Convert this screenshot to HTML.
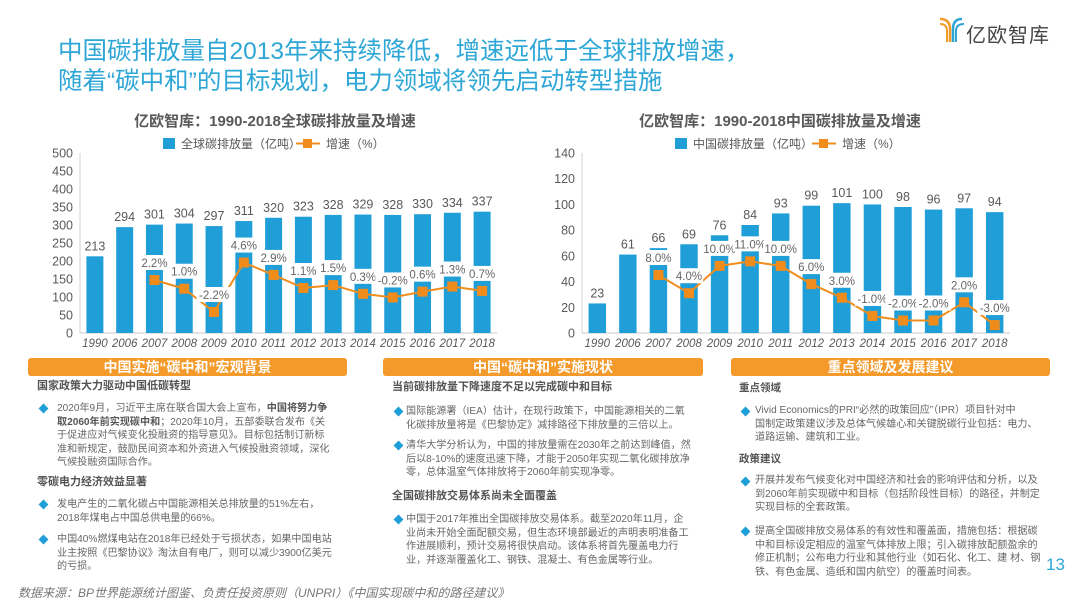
<!DOCTYPE html>
<html><head><meta charset="utf-8">
<style>
*{margin:0;padding:0;box-sizing:border-box}
body{width:1080px;height:608px;background:#fff;position:relative;overflow:hidden;font-family:"Liberation Sans","Noto Sans CJK SC",sans-serif;color:#595959}
.abs{position:absolute;white-space:nowrap}
.title{left:58px;font-size:24.5px;color:#2ea6d6;line-height:30px}
.hdr{position:absolute;top:358px;height:18px;background:#f39a2b;border-radius:3px;color:#fff;font-weight:bold;font-size:14px;line-height:18px;text-align:center}
.h2{position:absolute;font-weight:bold;font-size:11px;color:#555;white-space:nowrap;line-height:14px}
.p{position:absolute;font-size:10.1px;color:#666;white-space:nowrap;line-height:13.5px}
.b{position:absolute;width:7px;height:7px;background:#1f9ed8;transform:rotate(45deg)}
</style></head><body>
<div class="abs title" style="top:37px">中国碳排放量自2013年来持续降低，增速远低于全球排放增速，</div>
<div class="abs title" style="top:67px">随着“碳中和”的目标规划，电力领域将领先启动转型措施</div>

<svg class="abs" style="left:938px;top:16px" width="28" height="28">
<path d="M2 3 Q12 3 12 13 L12 26" stroke="#f39a2b" stroke-width="2.5" fill="none"/>
<path d="M2 8 Q9 8 9 15 L9 26" stroke="#f39a2b" stroke-width="2" fill="none"/>
<path d="M24 3 Q15 3 15 13 L15 26" stroke="#2ea6d6" stroke-width="2.5" fill="none"/>
<path d="M26 8 Q18 8 18 15 L18 26" stroke="#2ea6d6" stroke-width="2" fill="none"/>
</svg>
<div class="abs" style="left:966px;top:19px;font-size:20px;color:#444;letter-spacing:1px">亿欧智库</div>

<svg id="chartL" class="abs" style="left:0;top:105px" width="540" height="250"></svg>
<svg id="chartR" class="abs" style="left:540px;top:105px" width="540" height="250"></svg>

<div class="hdr" style="left:28px;width:319px">中国实施“碳中和”宏观背景</div>
<div class="hdr" style="left:383px;width:320px">中国“碳中和”实施现状</div>
<div class="hdr" style="left:731px;width:319px">重点领域及发展建议</div>

<!-- left panel -->
<div class="h2" style="left:37px;top:379px">国家政策大力驱动中国低碳转型</div>
<div class="b" style="left:40px;top:405px"></div>
<div class="p" style="left:57px;top:402px">2020年9月，习近平主席在联合国大会上宣布，<b style="color:#555">中国将努力争</b><br><b style="color:#555">取2060年前实现碳中和</b>；2020年10月，五部委联合发布《关<br>于促进应对气候变化投融资的指导意见》。目标包括制订新标<br>准和新规定，鼓励民间资本和外资进入气候投融资领域，深化<br>气候投融资国际合作。</div>
<div class="h2" style="left:37px;top:475px">零碳电力经济效益显著</div>
<div class="b" style="left:40px;top:501px"></div>
<div class="p" style="left:57px;top:498px">发电产生的二氧化碳占中国能源相关总排放量的51%左右，<br>2018年煤电占中国总供电量的66%。</div>
<div class="b" style="left:40px;top:536px"></div>
<div class="p" style="left:57px;top:533px">中国40%燃煤电站在2018年已经处于亏损状态，如果中国电站<br>业主按照《巴黎协议》淘汰自有电厂，则可以减少3900亿美元<br>的亏损。</div>

<!-- middle panel -->
<div class="h2" style="left:392px;top:380px">当前碳排放量下降速度不足以完成碳中和目标</div>
<div class="b" style="left:395px;top:408px"></div>
<div class="p" style="left:406px;top:405px">国际能源署（IEA）估计，在现行政策下，中国能源相关的二氧<br>化碳排放量将是《巴黎协定》减排路径下排放量的三倍以上。</div>
<div class="b" style="left:395px;top:442px"></div>
<div class="p" style="left:406px;top:439px">清华大学分析认为，中国的排放量需在2030年之前达到峰值，然<br>后以8-10%的速度迅速下降，才能于2050年实现二氧化碳排放净<br>零，总体温室气体排放将于2060年前实现净零。</div>
<div class="h2" style="left:392px;top:489px">全国碳排放交易体系尚未全面覆盖</div>
<div class="b" style="left:395px;top:516px"></div>
<div class="p" style="left:406px;top:513px">中国于2017年推出全国碳排放交易体系。截至2020年11月，企<br>业尚未开始全面配额交易，但生态环境部最近的声明表明准备工<br>作进展顺利，预计交易将很快启动。该体系将首先覆盖电力行<br>业，并逐渐覆盖化工、钢铁、混凝土、有色金属等行业。</div>

<!-- right panel -->
<div class="h2" style="left:739px;top:381px;font-size:10.5px">重点领域</div>
<div class="b" style="left:742px;top:408px"></div>
<div class="p" style="left:755px;top:404px">Vivid Economics的PRI“必然的政策回应”（IPR）项目针对中<br>国制定政策建议涉及总体气候雄心和关键脱碳行业包括：电力、<br>道路运输、建筑和工业。</div>
<div class="h2" style="left:739px;top:452px;font-size:10.5px">政策建议</div>
<div class="b" style="left:742px;top:478px"></div>
<div class="p" style="left:755px;top:474px">开展并发布气候变化对中国经济和社会的影响评估和分析，以及<br>到2060年前实现碳中和目标（包括阶段性目标）的路径，并制定<br>实现目标的全套政策。</div>
<div class="b" style="left:742px;top:528px"></div>
<div class="p" style="left:755px;top:525px"> 提高全国碳排放交易体系的有效性和覆盖面，措施包括：根据碳<br>中和目标设定相应的温室气体排放上限；引入碳排放配额盈余的<br>修正机制；公布电力行业和其他行业（如石化、化工、建 材、钢<br>铁、有色金属、造纸和国内航空）的覆盖时间表。</div>
<div class="abs" style="left:1046px;top:555px;font-size:17px;color:#2ea6d6">13</div>

<div class="abs" style="left:18px;top:584px;font-size:12px;font-style:italic;color:#777">数据来源：BP世界能源统计图鉴、负责任投资原则（UNPRI）《中国实现碳中和的路径建议》</div>

<script>
const years = ["1990","2006","2007","2008","2009","2010","2011","2012","2013","2014","2015","2016","2017","2018"];
const globalEmissions = [213,294,301,304,297,311,320,323,328,329,328,330,334,337];
const globalGrowth = [null,null,2.2,1.0,-2.2,4.6,2.9,1.1,1.5,0.3,-0.2,0.6,1.3,0.7];
const globalGrowthLabels = ["","","2.2%","1.0%","-2.2%","4.6%","2.9%","1.1%","1.5%","0.3%","-0.2%","0.6%","1.3%","0.7%"];
const globalTicks = [0,50,100,150,200,250,300,350,400,450,500];
const chinaEmissions = [23,61,66,69,76,84,93,99,101,100,98,96,97,94];
const chinaGrowth = [null,null,8,4,10,11,10,6,3,-1,-2,-2,2,-3];
const chinaGrowthLabels = ["","","8.0%","4.0%","10.0%","11.0%","10.0%","6.0%","3.0%","-1.0%","-2.0%","-2.0%","2.0%","-3.0%"];
const chinaTicks = [0,20,40,60,80,100,120,140];

const NS="http://www.w3.org/2000/svg";
function mk(svg,tag,attrs,txt){const e=document.createElementNS(NS,tag);for(const k in attrs)e.setAttribute(k,attrs[k]);if(txt!==undefined)e.textContent=txt;svg.appendChild(e);return e;}

function draw(cfg){
  const svg=document.getElementById(cfg.id);
  const top=48, bottom=228;
  const yMax=cfg.ticks[cfg.ticks.length-1];
  const y=v=>bottom-(v/yMax)*(bottom-top);
  const band=(cfg.x1-cfg.x0)/cfg.cats.length;
  const xc=i=>cfg.x0+band*(i+0.5);
  const g=v=>bottom+cfg.gZero-v*cfg.gScale;
  let t=mk(svg,'text',{x:cfg.titleX,y:21,'text-anchor':'middle','font-size':15,'font-weight':'bold',fill:'#595959'},cfg.title);
  
  
  let lb=mk(svg,'rect',{x:cfg.legX,y:33,width:12,height:11,fill:'#1f9ed8'});
  
  
  let lt=mk(svg,'text',{x:cfg.legX+18,y:43,'font-size':12,fill:'#595959'},cfg.legend);
  
  
  let ll=mk(svg,'line',{x1:cfg.leg2X,y1:38.5,x2:cfg.leg2X+24,y2:38.5,stroke:'#f08c1c','stroke-width':2});
  
  
  mk(svg,'rect',{x:cfg.leg2X+7,y:34,width:9,height:9,fill:'#f08c1c'});
  let lt2=mk(svg,'text',{x:cfg.leg2X+30,y:43,'font-size':12,fill:'#595959'},'增速（%）');
  
  
  cfg.ticks.forEach(v=>{
    let tk=mk(svg,'text',{x:cfg.x0-7,y:y(v)+4.5,'text-anchor':'end','font-size':12.5,fill:'#595959'},v);
    
    
  });
  mk(svg,'line',{x1:cfg.x0,y1:top,x2:cfg.x0,y2:bottom,stroke:'#d0d0d0'});
  mk(svg,'line',{x1:cfg.x0,y1:bottom,x2:cfg.x1,y2:bottom,stroke:'#c8c8c8'});
  const bw=band*0.57;
  cfg.cats.forEach((c,i)=>{
    let r=mk(svg,'rect',{x:xc(i)-bw/2,y:y(cfg.vals[i]),width:bw,height:bottom-y(cfg.vals[i]),fill:'#1f9ed8'});
    
    
    let vl=mk(svg,'text',{x:xc(i),y:y(cfg.vals[i])-6,'text-anchor':'middle','font-size':12.5,fill:'#595959'},cfg.vals[i]);
    
    
    let xl=mk(svg,'text',{x:xc(i),y:bottom+14,'text-anchor':'middle','font-size':11.5,'font-style':'italic',fill:'#595959'},c);
    
    
  });
  let pts=[];
  cfg.growth.forEach((v,i)=>{if(v!==null)pts.push([xc(i),g(v)]);});
  let pl=mk(svg,'polyline',{points:pts.map(p=>p.join(',')).join(' '),fill:'none',stroke:'#f08c1c','stroke-width':2,'stroke-linejoin':'round'});
  
  
  cfg.growth.forEach((v,i)=>{
    if(v===null)return;
    let m=mk(svg,'rect',{x:xc(i)-5,y:g(v)-5,width:10,height:10,fill:'#f08c1c'});
    
    
    const lbl=cfg.glabels[i];
    const w=lbl.length*6.6+2;
    mk(svg,'rect',{x:xc(i)-w/2,y:g(v)-25,width:w,height:15,fill:'#fff'});
    let gl=mk(svg,'text',{x:xc(i),y:g(v)-13,'text-anchor':'middle','font-size':11.5,fill:'#666'},lbl);
    
    
  });
}
draw({id:'chartL',cats:years,vals:globalEmissions,growth:globalGrowth,glabels:globalGrowthLabels,ticks:globalTicks,x0:80,x1:497,gZero:-37,gScale:7.27,title:'亿欧智库：1990-2018全球碳排放量及增速',titleX:275,legX:163,leg2X:296,legend:'全球碳排放量（亿吨）'});
draw({id:'chartR',cats:years,vals:chinaEmissions,growth:chinaGrowth,glabels:chinaGrowthLabels,ticks:chinaTicks,x0:42,x1:470,gZero:-21.6,gScale:4.55,title:'亿欧智库：1990-2018中国碳排放量及增速',titleX:240,legX:135,leg2X:272,legend:'中国碳排放量（亿吨）'});
</script>
</body></html>
